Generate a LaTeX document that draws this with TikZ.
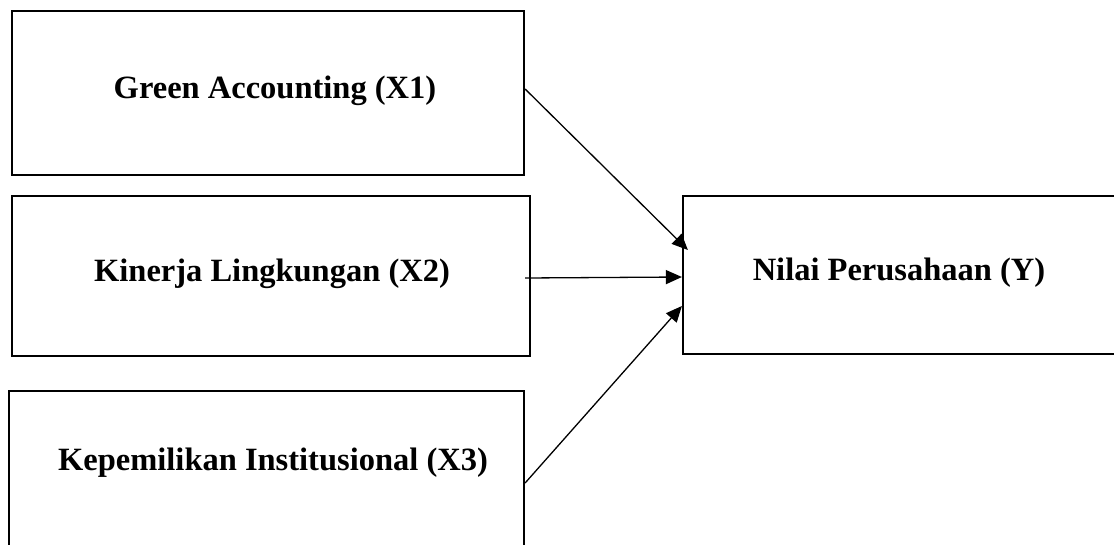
\documentclass[tikz,border=0pt]{standalone}
\usepackage{fontspec}
\setmainfont{Liberation Serif}
\usetikzlibrary{arrows.meta,calc}
\begin{document}
\begin{tikzpicture}[x=1pt,y=-1pt,
  box/.style={draw, line width=2.2pt, inner sep=0pt, rectangle},
  lbl/.style={font=\fontsize{32.5}{39}\selectfont\bfseries, anchor=base, inner sep=0pt},
  arr/.style={line width=1.3pt, -{Triangle[length=16pt,width=14pt]}}]
\clip (0,0) rectangle (1114,544);
\fill[white] (0,0) rectangle (1114,544);
\node[box, minimum width=512pt, minimum height=164pt] (b1) at (268,93) {};
\node[box, minimum width=518pt, minimum height=160pt] (b2) at (271,276) {};
\node[box, minimum width=515pt, minimum height=209pt] (b3) at (266.5,495.5) {};
\node[box, minimum width=457pt, minimum height=158pt] (bY) at (911.5,275) {};
\node[lbl] (t1) at (275,98) {Green Accounting (X1)};
\node[lbl] (t2) at (272,281) {Kinerja Lingkungan (X2)};
\node[lbl] (t3) at (273,470) {Kepemilikan Institusional (X3)};
\node[lbl] (tY) at (899,280) {Nilai Perusahaan (Y)};
\draw[arr] ($(b1.east)+(0,-4)$) -- ($(bY.west)+(6,-25)$);
\draw[arr] ($(b2.east)+(-6,2)$) -- ($(bY.west)+(0,2)$);
\draw[arr] ($(b3.east)+(0,-12.5)$) -- ($(bY.west)+(0,31)$);
\end{tikzpicture}
\end{document}
